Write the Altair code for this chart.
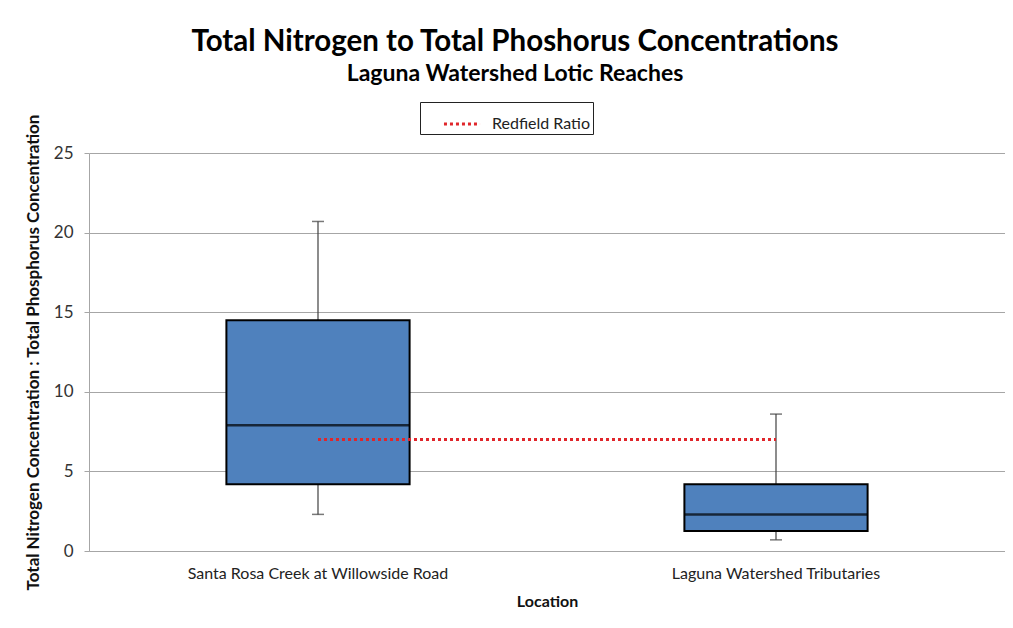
import altair as alt
import pandas as pd

locations = ["Santa Rosa Creek at Willowside Road", "Laguna Watershed Tributaries"]
whisker_low = [2.3, 0.7]
q1 = [4.2, 1.25]
median = [7.9, 2.3]
q3 = [14.5, 4.2]
whisker_high = [20.7, 8.6]
redfield = [7, 7]
series_name = ["Redfield Ratio", "Redfield Ratio"]

df = pd.DataFrame({
    "Location": locations,
    "low": whisker_low,
    "q1": q1,
    "median": median,
    "q3": q3,
    "high": whisker_high,
    "redfield": redfield,
    "series": series_name,
})

FONT = "Lato"

x_enc = alt.X(
    "Location:N",
    sort=locations,
    scale=alt.Scale(paddingInner=0.6, paddingOuter=0.3),
    axis=alt.Axis(
        title="Location", labelAngle=0, labelFontSize=16, labelColor="#222",
        labelLimit=0,
        titleFontSize=16, titleFontWeight="bold", titleColor="#111",
        labelPadding=14, titlePadding=12, ticks=False,
        domainColor="#a6a6a6", grid=False,
    ),
)
y_scale = alt.Scale(domain=[0, 25], nice=False)
y_axis = alt.Axis(
    title="Total Nitrogen Concentration : Total Phosphorus Concentration",
    values=[0, 5, 10, 15, 20, 25], labelFontSize=17, labelColor="#333",
    titleFontSize=17, titleFontWeight="bold", titleColor="#111",
    tickColor="#a6a6a6", tickSize=5, labelPadding=11, titlePadding=11,
    domainColor="#a6a6a6", gridColor="#a6a6a6",
)

base = alt.Chart(df)

whisk_lo = base.mark_rule(color="#404040", strokeWidth=1.2).encode(
    x=x_enc, y=alt.Y("low:Q", scale=y_scale, axis=y_axis), y2="q1:Q")
whisk_hi = base.mark_rule(color="#404040", strokeWidth=1.2).encode(
    x=x_enc, y=alt.Y("q3:Q", scale=y_scale, axis=y_axis), y2="high:Q")
cap_lo = base.mark_tick(color="#404040", thickness=1.5, size=12).encode(
    x=x_enc, y=alt.Y("low:Q", scale=y_scale, axis=y_axis))
cap_hi = base.mark_tick(color="#404040", thickness=1.5, size=12).encode(
    x=x_enc, y=alt.Y("high:Q", scale=y_scale, axis=y_axis))
box = base.mark_bar(color="#4F81BD", stroke="#000", strokeWidth=2).encode(
    x=x_enc, y=alt.Y("q1:Q", scale=y_scale, axis=y_axis), y2="q3:Q")
med = base.mark_tick(color="#000", thickness=2.5, size=183).encode(
    x=x_enc, y=alt.Y("median:Q", scale=y_scale, axis=y_axis))
red = base.mark_line(strokeWidth=3, strokeDash=[3, 3]).encode(
    x=x_enc,
    y=alt.Y("redfield:Q", scale=y_scale, axis=y_axis),
    color=alt.Color(
        "series:N",
        scale=alt.Scale(range=["#e0262b"]),
        legend=alt.Legend(
            title=None, orient="none", legendX=331, legendY=-51,
            strokeColor="#222", padding=2, labelFontSize=16, labelColor="#222",
            symbolType="stroke", symbolDash=[3, 3], symbolStrokeWidth=3,
            symbolSize=1300, symbolOffset=20, labelOffset=10,
        ),
    ),
)

chart = alt.layer(whisk_lo, whisk_hi, cap_lo, cap_hi, box, med, red).properties(
    width=916, height=398,
    title=alt.Title(
        "Total Nitrogen to Total Phoshorus Concentrations",
        subtitle="Laguna Watershed Lotic Reaches",
        fontSize=29.5, fontWeight="bold", color="#000",
        subtitleFontSize=23, subtitleFontWeight="bold", subtitleColor="#000",
        subtitlePadding=5, anchor="middle", dx=-32, offset=15,
    ),
    autosize=alt.AutoSizeParams(type="none"),
    padding={"left": 81, "top": 145, "right": 0, "bottom": 70},
).configure(font=FONT).configure_view(stroke=None)

chart.save("out.html", embed_options={"renderer": "svg", "actions": False})
